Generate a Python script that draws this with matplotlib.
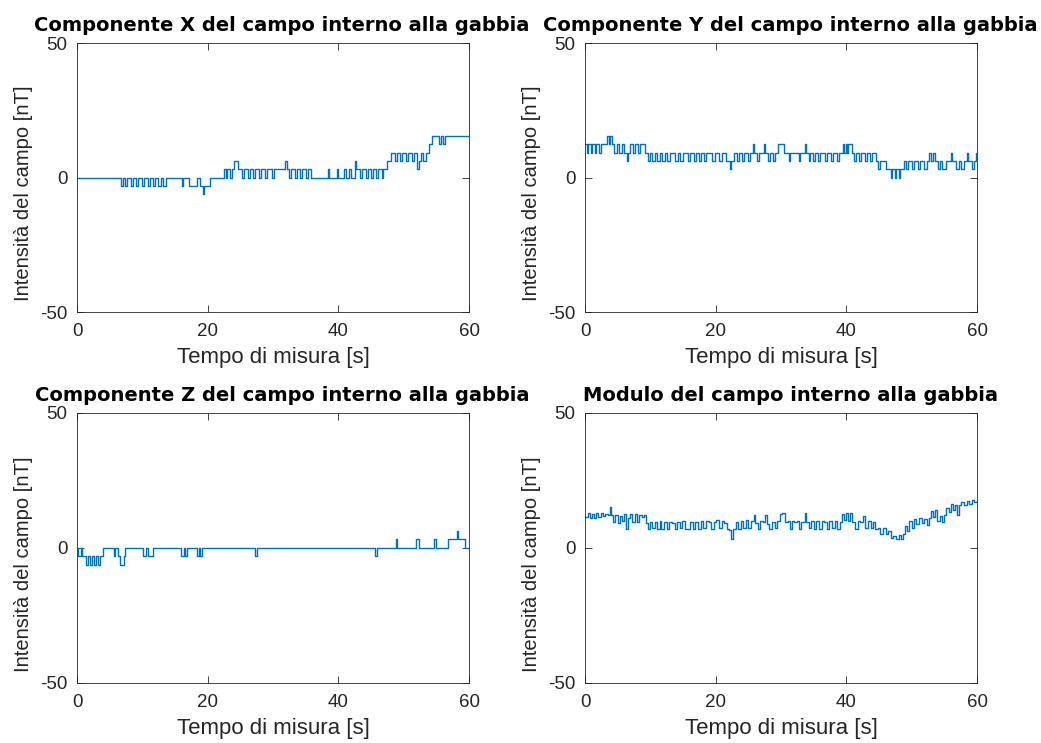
import matplotlib
matplotlib.use('Agg')
from matplotlib import pyplot as plt

# valori (istanti di cambio livello e livelli in nT)
x_time = [0.0, 6.7, 7.0, 7.4, 7.7, 8.2, 8.5, 9.0, 9.4, 9.9, 10.2, 10.8, 11.2, 11.7, 12.0, 12.4, 12.8, 13.2, 13.6,
          16.0, 16.2, 17.2, 18.4, 18.8, 19.3, 19.5, 20.3, 22.5, 22.8, 23.0, 23.4, 23.7, 24.0, 24.6,
          25.2, 25.5, 26.1, 26.4, 27.0, 27.3, 27.8, 28.1, 28.8, 29.0, 29.8, 30.1,
          31.8, 32.1, 32.5, 32.8, 33.3, 33.6, 34.2, 34.5, 35.0, 35.3, 35.8,
          38.4, 38.6, 39.8, 40.0, 40.8, 41.2, 41.6, 42.0,
          42.5, 42.7, 43.3, 43.6, 44.2, 44.5, 45.0, 45.3, 45.8, 46.1, 46.6, 46.9,
          47.4, 48.0, 48.6, 48.9, 49.5, 49.8, 50.4, 50.7, 51.3, 51.6, 52.0, 52.3, 52.7, 53.0, 53.4, 53.8,
          54.3, 55.4, 55.7, 56.0, 56.3, 60.0]
x_val = [0, -3.1, 0, -3.1, 0, -3.1, 0, -3.1, 0, -3.1, 0, -3.1, 0, -3.1, 0, -3.1, 0, -3.1, 0,
         -3.1, 0, -3.1, 0, -3.1, -6.2, -3.1, 0, 3.1, 0, 3.1, 0, 3.1, 6.2, 3.1,
         0, 3.1, 0, 3.1, 0, 3.1, 0, 3.1, 0, 3.1, 0, 3.1,
         6.2, 3.1, 0, 3.1, 0, 3.1, 0, 3.1, 0, 3.1, 0,
         3.1, 0, 3.1, 0, 3.1, 0, 3.1, 0,
         6.2, 3.1, 0, 3.1, 0, 3.1, 0, 3.1, 0, 3.1, 0, 3.1,
         6.2, 9.3, 6.2, 9.3, 6.2, 9.3, 6.2, 9.3, 6.2, 9.3, 3.1, 6.2, 9.3, 6.2, 9.3, 12.4,
         15.5, 12.4, 15.5, 12.4, 15.5, 15.5]

y_time = [0.0, 0.3, 0.5, 0.9, 1.1, 1.5, 1.7, 2.2, 2.4, 3.4, 3.6, 3.8, 4.1, 4.4, 4.9, 5.2, 5.6, 6.0, 6.4, 6.6,
          6.9, 7.3, 7.7, 8.1, 8.4, 9.2, 9.6, 10.0, 10.3, 10.7, 11.0, 11.4, 11.8, 12.2, 12.6, 13.0, 13.8,
          14.2, 14.6, 15.0, 15.7, 16.1, 16.6, 17.0, 17.4, 17.8, 18.2, 18.5, 19.5, 19.9, 20.5, 20.9, 21.5,
          22.2, 22.4, 22.8, 23.2, 23.5, 24.0, 24.3, 25.0, 25.3, 25.7, 25.9, 26.3, 26.6, 27.4, 27.6, 28.0,
          28.3, 28.7, 29.0, 29.6, 30.5, 31.2, 31.4, 32.7, 32.9, 33.6, 33.8, 34.2, 34.5, 34.9, 35.2, 35.6,
          35.9, 36.7, 37.1, 37.6, 37.9, 38.6, 38.9, 39.5, 39.7, 39.9, 40.1, 40.3, 40.8, 41.2, 41.5, 42.0,
          42.3, 42.8, 43.1, 43.6, 43.9, 44.5, 44.9, 45.2, 46.1, 46.8, 47.0, 47.4, 47.6, 48.0, 48.2, 48.8,
          49.1, 49.5, 50.0, 50.3, 50.9, 51.3, 51.8, 52.3, 52.6, 53.0, 53.3, 53.6, 54.0, 54.3, 54.7, 55.2,
          56.0, 56.2, 56.8, 57.2, 57.6, 58.0, 58.4, 58.6, 59.2, 59.5, 59.8, 60.0]
y_val = [12.4, 9.3, 12.4, 9.3, 12.4, 9.3, 12.4, 9.3, 12.4, 15.5, 12.4, 15.5, 12.4, 9.3, 12.4, 9.3, 12.4, 9.3, 6.2, 9.3,
         12.4, 9.3, 12.4, 9.3, 12.4, 9.3, 6.2, 9.3, 6.2, 9.3, 6.2, 9.3, 6.2, 9.3, 6.2, 9.3, 6.2,
         9.3, 6.2, 9.3, 6.2, 9.3, 6.2, 9.3, 6.2, 9.3, 6.2, 9.3, 6.2, 9.3, 6.2, 9.3, 6.2,
         3.1, 6.2, 9.3, 6.2, 9.3, 6.2, 9.3, 6.2, 9.3, 12.4, 9.3, 6.2, 9.3, 12.4, 9.3, 6.2,
         9.3, 6.2, 9.3, 12.4, 9.3, 6.2, 9.3, 6.2, 9.3, 12.4, 9.3, 6.2, 9.3, 6.2, 9.3, 6.2,
         9.3, 6.2, 9.3, 6.2, 9.3, 6.2, 9.3, 12.4, 9.3, 12.4, 9.3, 12.4, 9.3, 6.2, 9.3, 6.2,
         9.3, 6.2, 9.3, 6.2, 9.3, 6.2, 3.1, 6.2, 3.1, 0.0, 3.1, 0.0, 3.1, 0.0, 3.1, 6.2,
         3.1, 6.2, 3.1, 6.2, 3.1, 6.2, 3.1, 6.2, 9.3, 6.2, 9.3, 6.2, 3.1, 6.2, 3.1, 6.2,
         9.3, 6.2, 3.1, 6.2, 3.1, 6.2, 9.3, 6.2, 3.1, 6.2, 9.3, 9.3]

z_time = [0.0, 0.15, 0.6, 0.8, 1.4, 1.7, 2.0, 2.3, 2.6, 2.9, 3.2, 3.5, 4.0, 5.6, 5.8, 6.3, 6.5, 7.2, 7.4,
          10.1, 10.5, 10.8, 11.6, 15.9, 16.3, 16.5, 16.9, 18.3, 18.6, 18.8, 19.1, 27.3, 27.5,
          45.6, 45.9, 48.8, 49.0, 51.9, 52.3, 54.7, 54.9, 56.7, 58.1, 58.3, 59.3, 60.0]
z_val = [0, -3.1, 0, -3.1, -6.2, -3.1, -6.2, -3.1, -6.2, -3.1, -6.2, -3.1, 0, -3.1, 0, -3.1, -6.2, -3.1, 0,
         -3.1, 0, -3.1, 0, -3.1, 0, -3.1, 0, -3.1, 0, -3.1, 0, -3.1, 0,
         -3.1, 0, 3.1, 0, 3.1, 0, 3.1, 0, 3.1, 6.2, 3.1, 0, 0]

m_time = [0.0, 0.4, 0.7, 1.0, 1.3, 1.7, 2.0, 2.4, 2.7, 3.1, 3.5, 3.8, 4.0, 4.3, 4.6, 5.0, 5.3, 5.7, 6.0, 6.3,
          6.6, 6.9, 7.2, 7.6, 7.9, 8.3, 8.7, 9.0, 9.4, 9.7, 10.0, 10.3, 10.7, 11.0, 11.4, 11.7, 12.1, 12.5,
          12.9, 13.3, 13.7, 14.1, 14.5, 14.9, 15.3, 15.7, 16.1, 16.5, 16.9, 17.3, 17.7, 18.1, 18.5, 18.9,
          19.3, 19.7, 20.1, 20.5, 20.9, 21.3, 21.7, 22.1, 22.4, 22.7, 23.1, 23.4, 23.8, 24.2, 24.6, 25.0,
          25.4, 25.8, 26.0, 26.4, 26.8, 27.2, 27.6, 27.8, 28.2, 28.6, 29.0, 29.4, 29.8, 30.2, 30.6, 31.0,
          31.3, 31.6, 32.0, 32.4, 32.8, 33.1, 33.6, 33.8, 34.2, 34.6, 35.0, 35.4, 35.8, 36.2, 36.6, 37.0,
          37.4, 37.8, 38.2, 38.6, 39.0, 39.4, 39.7, 40.0, 40.3, 40.6, 40.9, 41.3, 41.7, 42.1, 42.5, 42.9,
          43.3, 43.7, 44.1, 44.4, 44.8, 45.2, 45.6, 46.0, 46.4, 46.8, 47.2, 47.6, 48.0, 48.4, 48.7, 49.0,
          49.3, 49.6, 50.0, 50.3, 50.7, 51.1, 51.5, 51.9, 52.3, 52.7, 53.0, 53.3, 53.6, 53.9, 54.3, 54.7,
          55.0, 55.3, 55.7, 56.0, 56.3, 56.6, 56.9, 57.2, 57.6, 58.0, 58.4, 58.8, 59.2, 59.6, 60.0]
m_val = [11.5, 12.8, 11.0, 12.6, 11.2, 12.9, 11.4, 13.0, 11.8, 12.5, 12.3, 15.2, 12.0, 9.5, 12.2, 9.3, 11.8, 9.8, 12.5, 7.0,
         11.0, 12.6, 9.6, 12.4, 9.5, 12.0, 11.5, 12.3, 9.2, 7.0, 9.5, 7.2, 9.6, 7.0, 9.8, 6.8, 9.4, 7.1,
         9.6, 9.2, 6.9, 9.5, 7.2, 9.9, 6.8, 7.0, 9.7, 7.0, 9.4, 7.1, 10.0, 7.3, 9.8, 9.5,
         7.0, 9.6, 10.3, 7.2, 9.9, 9.2, 7.0, 6.5, 3.4, 7.0, 9.5, 6.9, 9.8, 7.2, 10.2, 7.3,
         9.8, 12.3, 9.2, 7.0, 10.0, 9.4, 12.0, 9.0, 7.1, 9.7, 7.2, 9.8, 12.6, 12.8, 9.6, 9.9,
         6.9, 9.8, 9.5, 10.0, 7.0, 9.6, 13.0, 9.7, 7.2, 10.1, 7.0, 9.9, 7.1, 10.0, 9.5, 7.0,
         9.8, 7.2, 10.1, 7.0, 9.7, 12.6, 10.2, 13.0, 10.0, 12.8, 9.5, 7.0, 10.0, 9.4, 11.6, 7.4,
         10.0, 7.5, 9.6, 6.8, 7.5, 5.3, 7.2, 5.0, 6.4, 3.6, 4.5, 3.2, 4.6, 3.3, 5.0, 8.2,
         6.2, 9.8, 7.5, 10.5, 9.0, 11.0, 9.2, 10.8, 8.6, 11.2, 13.5, 11.5, 14.0, 10.0, 11.8, 9.6,
         12.0, 14.6, 13.2, 16.2, 14.0, 15.8, 12.0, 16.0, 16.8, 15.9, 17.5, 16.4, 17.8, 16.8, 17.2]

titles = ['Componente X del campo interno alla gabbia', 'Componente Y del campo interno alla gabbia',
          'Componente Z del campo interno alla gabbia', 'Modulo del campo interno alla gabbia']

plt.rcParams['font.family'] = ['Liberation Sans', 'DejaVu Sans']
plt.rcParams['axes.unicode_minus'] = False
blue = '#0072BD'
edge = '#262626'

fig = plt.figure(figsize=(10.41, 7.43), dpi=100)
positions = [[0.074, 0.580, 0.3766, 0.362], [0.562, 0.580, 0.3766, 0.362],
             [0.074, 0.081, 0.3766, 0.3634], [0.562, 0.081, 0.3766, 0.3634]]
series = [(x_time, x_val), (y_time, y_val), (z_time, z_val), (m_time, m_val)]

for pos, (t, v), title in zip(positions, series, titles):
    ax = fig.add_axes(pos)
    ax.plot(t, v, color=blue, linewidth=1.0, drawstyle='steps-post')
    ax.set_xlim(0, 60)
    ax.set_ylim(-50, 50)
    ax.set_xticks([0, 20, 40, 60])
    ax.set_yticks([-50, 0, 50])
    ax.tick_params(direction='in', top=True, right=True, labelsize=13.5, colors=edge, length=5, width=0.6)
    ax.tick_params(axis='x', pad=8)
    ax.tick_params(axis='y', pad=7)
    for s in ax.spines.values():
        s.set_color(edge)
        s.set_linewidth(0.6)
    ax.set_title(title, fontsize=14, fontweight='bold', family='DejaVu Sans', pad=8.5, x=0.523)
    ax.set_xlabel('Tempo di misura [s]', fontsize=16, color=edge, labelpad=5)
    ax.set_ylabel('Intensità del campo [nT]', fontsize=14.5, color=edge)
    ax.yaxis.set_label_coords(-0.112, 0.44)

fig.savefig('out.png', dpi=100)
